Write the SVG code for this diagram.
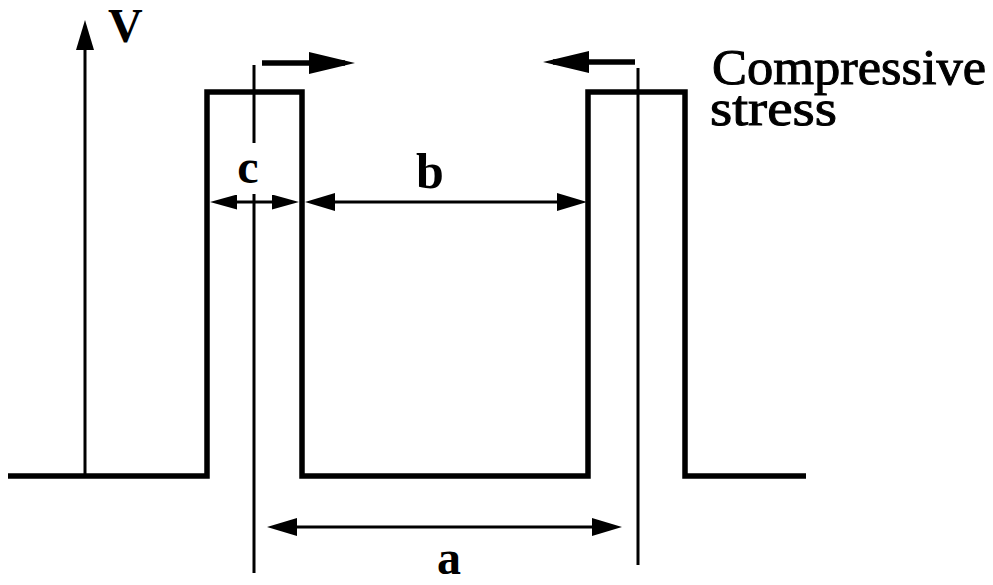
<svg xmlns="http://www.w3.org/2000/svg" width="993" height="585" viewBox="0 0 993 585">
<style>
.pulse{fill:none;stroke:#000;stroke-width:5.5;stroke-linejoin:miter}
.thin{fill:none;stroke:#000;stroke-width:3}
.dim{fill:none;stroke:#000;stroke-width:3}
.force{fill:none;stroke:#000;stroke-width:5.5}
.lbl{font-family:"Liberation Serif","DejaVu Serif",serif;font-weight:bold;fill:#000}
.cap{font-family:"Liberation Serif","DejaVu Serif",serif;fill:#000;stroke:#000;stroke-width:1}
</style>
<defs>
<marker id="ah" viewBox="0 0 30 18" refX="20" refY="9" markerWidth="30" markerHeight="18" markerUnits="userSpaceOnUse" orient="auto-start-reverse">
<path d="M0,0 L30,9 L0,18 Z" fill="#000"/>
</marker>
<marker id="ahs" viewBox="0 0 27 15" refX="19" refY="7.5" markerWidth="27" markerHeight="15" markerUnits="userSpaceOnUse" orient="auto-start-reverse">
<path d="M0,0 L27,7.5 L0,15 Z" fill="#000"/>
</marker>
<marker id="ahb" viewBox="0 0 46 22" refX="36" refY="11" markerWidth="46" markerHeight="22" markerUnits="userSpaceOnUse" orient="auto-start-reverse">
<path d="M0,0 L46,11 L0,22 Z" fill="#000"/>
</marker>
</defs>
<g id="waveform">
<path class="pulse" d="M8,476 H207 V92 H302 V476 H588 V92 H685 V476 H806"/>
</g>
<g id="axis">
<line class="thin" x1="85" y1="476" x2="85" y2="30" marker-end="url(#ah)"/>
<text class="lbl" x="108" y="42" font-size="48">V</text>
</g>
<g id="connectors">
<line class="thin" x1="254" y1="65" x2="254" y2="143"/>
<line class="thin" x1="254" y1="194" x2="254" y2="573"/>
<line class="thin" x1="638" y1="68" x2="638" y2="565"/>
<line class="force" x1="262" y1="63" x2="345" y2="63" marker-end="url(#ahb)"/>
<line class="force" x1="635" y1="62" x2="553" y2="62" marker-end="url(#ahb)"/>
<line class="dim" x1="218" y1="202" x2="291" y2="202" marker-start="url(#ahs)" marker-end="url(#ahs)"/>
<line class="dim" x1="315" y1="202" x2="577" y2="202" marker-start="url(#ah)" marker-end="url(#ah)"/>
<line class="dim" x1="277" y1="527" x2="612" y2="527" marker-start="url(#ah)" marker-end="url(#ah)"/>
</g>
<g id="labels">
<text class="lbl" x="248" y="183" font-size="48" text-anchor="middle">c</text>
<text class="lbl" x="430" y="188" font-size="50" text-anchor="middle">b</text>
<text class="lbl" x="449" y="574" font-size="48" text-anchor="middle">a</text>
<text class="cap" font-size="50"><tspan x="712" y="84" textLength="274" lengthAdjust="spacingAndGlyphs">Compressive</tspan><tspan x="710" y="125" textLength="127" lengthAdjust="spacingAndGlyphs">stress</tspan></text>
</g>
</svg>
